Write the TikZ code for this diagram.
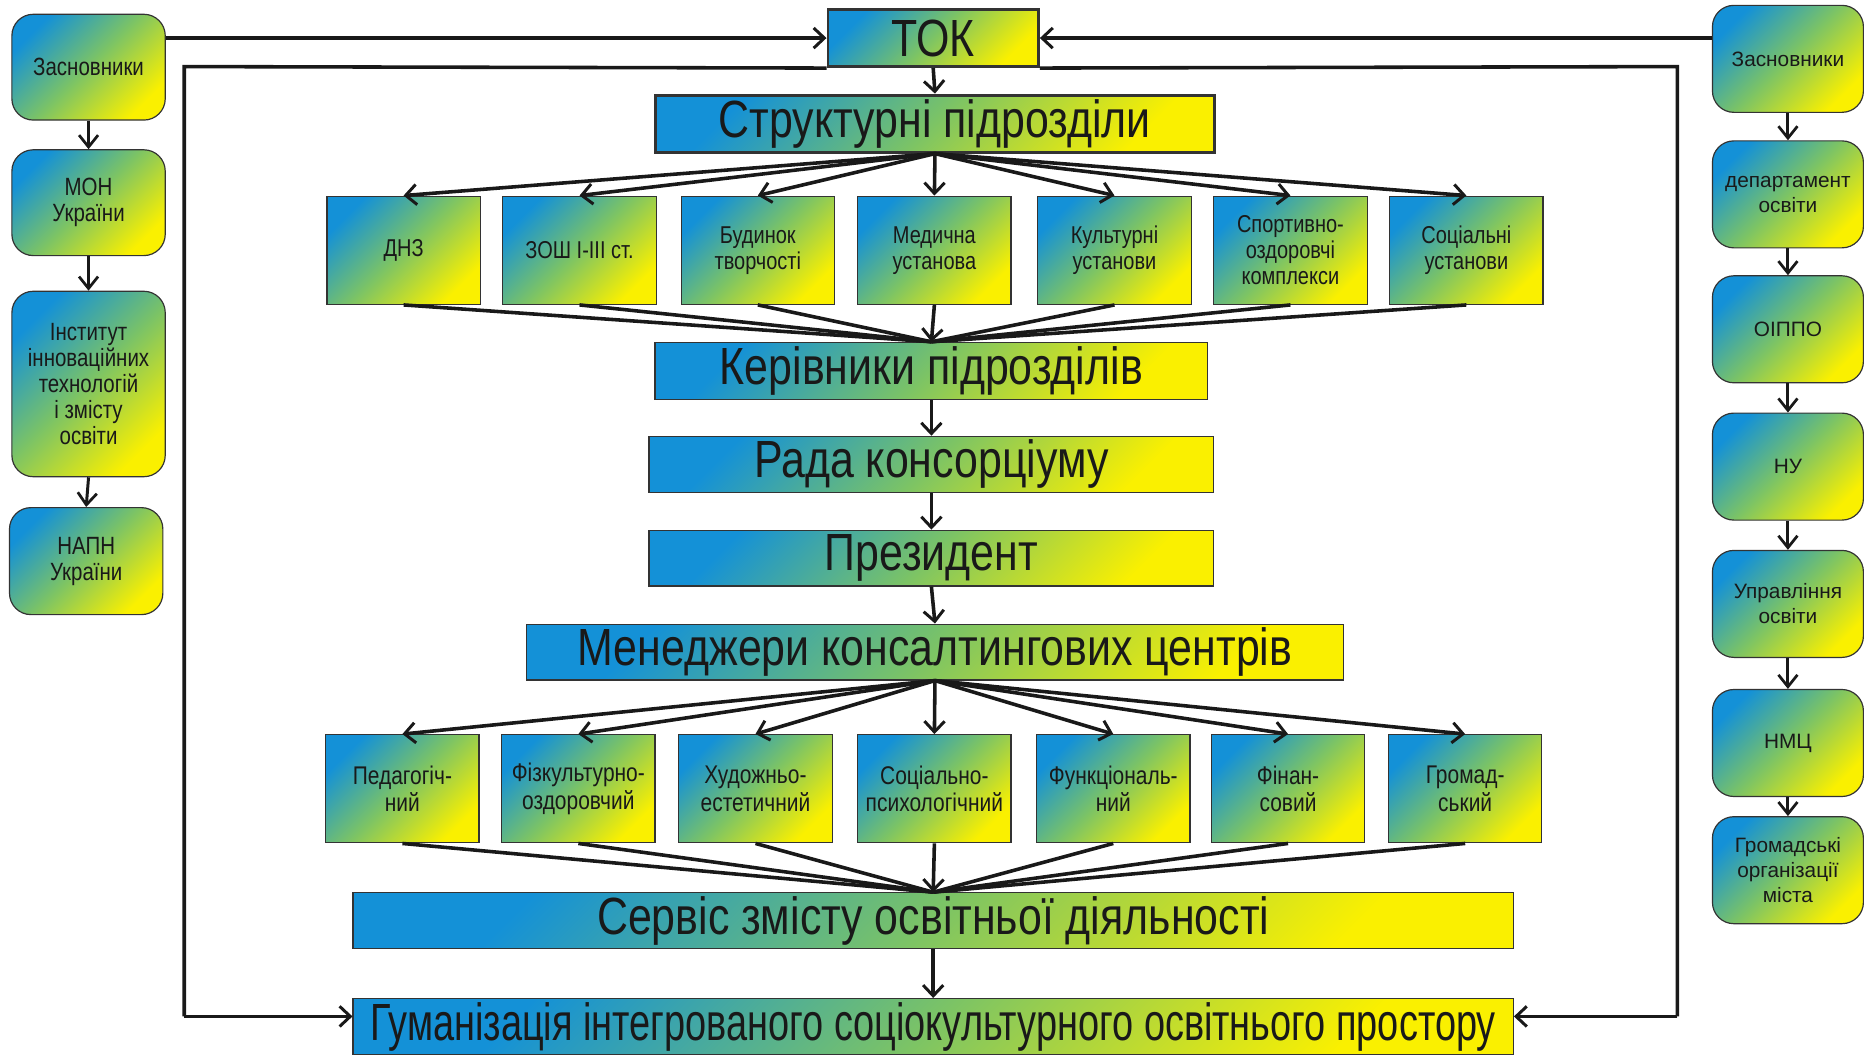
\documentclass[tikz,border=0pt]{standalone}
\usepackage{fontspec}
\setmainfont{Liberation Sans}
\newfontfamily\nrw[FakeStretch=0.82]{Liberation Sans}
\newfontfamily\nrww[FakeStretch=0.725]{Liberation Sans}
\usetikzlibrary{arrows.meta}
\definecolor{gblue}{RGB}{20,145,215}
\definecolor{ggreen}{RGB}{125,196,100}
\definecolor{gyellow}{RGB}{250,240,0}
\definecolor{txt}{RGB}{25,25,25}
\tikzset{
  grad/.style={left color=gblue, right color=gyellow, middle color=ggreen, shading angle=45,
    draw=black!80, line width=1pt, inner sep=0pt, text=txt, align=center},
  bar/.style={grad, minimum height=48pt, font=\nrw\fontsize{44}{44}\selectfont},
  sbox/.style={grad, minimum width=129pt, minimum height=91pt, font=\nrw\fontsize{20.5}{22}\selectfont},
  tbox/.style={sbox, font=\nrw\fontsize{21.5}{23}\selectfont},
  lbox/.style={grad, rounded corners=18pt, minimum width=129pt, font=\nrw\fontsize{21}{22}\selectfont},
  rbox/.style={grad, rounded corners=18pt, minimum width=127pt, minimum height=90pt, font=\fontsize{17.5}{21}\selectfont},
  conn/.style={line width=3pt, draw=black!90},
  arr/.style={conn, -{Straight Barb[length=9pt,width=17pt,line width=2.5pt]}},
  sarr/.style={line width=2.5pt, draw=black!90, -{Straight Barb[length=10pt,width=16pt,line width=2.3pt]}},
}
\begin{document}
\begin{tikzpicture}[x=1pt,y=-1pt]
\useasboundingbox (0,0) rectangle (1568,887);
% left column
\node[lbox, minimum height=89pt] (zl) at (74.5,56.5) {Засновники};
\node[lbox, minimum height=89pt] (mon) at (74.5,170.5) {МОН\\України};
\node[lbox, minimum height=156pt] (inst) at (74.5,323) {Інститут\\інноваційних\\технологій\\і змісту\\освіти};
\node[lbox, minimum height=90pt] (napn) at (72.5,472) {НАПН\\України};
\draw[sarr] (zl.south) -- (mon.north);
\draw[sarr] (mon.south) -- (inst.north);
\draw[sarr] (inst.south) -- (napn.north);
% right column
\node[rbox] (zr) at (1504,49.5) {Засновники};
\node[rbox] (dep) at (1504,163.5) {департамент\\освіти};
\node[rbox] (oippo) at (1504,277) {ОІППО};
\node[rbox] (nu) at (1504,392.5) {НУ};
\node[rbox] (upr) at (1504,508) {Управління\\освіти};
\node[rbox] (nmc) at (1504,625) {НМЦ};
\node[rbox] (grom) at (1504,732) {Громадські\\організації\\міста};
\draw[sarr] (zr.south) -- (dep.north);
\draw[sarr] (dep.south) -- (oippo.north);
\draw[sarr] (oippo.south) -- (nu.north);
\draw[sarr] (nu.south) -- (upr.north);
\draw[sarr] (upr.south) -- (nmc.north);
\draw[sarr] (nmc.south) -- (grom.north);
% central bars
\node[bar, minimum width=177pt, line width=2.5pt] (tok) at (785,32) {ТОК};
\node[bar, minimum width=471pt, line width=2.5pt] (str) at (786.5,104) {Структурні підрозділи};
\node[bar, minimum width=465pt] (ker) at (783.5,312) {Керівники підрозділів};
\node[bar, minimum width=475pt, minimum height=47pt] (rada) at (783.5,390.5) {Рада консорціуму};
\node[bar, minimum width=475pt, minimum height=47pt] (pres) at (783.5,469.5) {Президент};
\node[bar, minimum width=687pt, minimum height=47pt] (men) at (786.5,548.5) {Менеджери консалтингових центрів};
\node[bar, minimum width=976pt, minimum height=47pt] (serv) at (785,774.5) {Сервіс змісту освітньої діяльності};
\node[bar, minimum width=976pt, minimum height=47pt, font=\nrww\fontsize{44}{44}\selectfont] (hum) at (785,863.5) {Гуманізація інтегрованого соціокультурного освітнього простору};
% row 1
\node[sbox] (a1) at (339.5,210.5) {ДНЗ};
\node[sbox] (a2) at (487.5,210.5) {ЗОШ І-ІІІ ст.};
\node[sbox] (a3) at (637.5,210.5) {Будинок\\творчості};
\node[sbox] (a4) at (786,210.5) {Медична\\установа};
\node[sbox] (a5) at (937.5,210.5) {Культурні\\установи};
\node[sbox] (a6) at (1085.5,210.5) {Спортивно-\\оздоровчі\\комплекси};
\node[sbox] (a7) at (1233.5,210.5) {Соціальні\\установи};
% row 2
\node[tbox] (b1) at (338.5,663.5) {Педагогіч-\\ний};
\node[tbox] (b2) at (486.5,663.5) {Фізкультурно-\\оздоровчий};
\node[tbox] (b3) at (635.5,663.5) {Художньо-\\естетичний};
\node[tbox] (b4) at (786,663.5) {Соціально-\\психологічний};
\node[tbox] (b5) at (936.5,663.5) {Функціональ-\\ний};
\node[tbox] (b6) at (1083.5,663.5) {Фінан-\\совий};
\node[tbox] (b7) at (1232.5,663.5) {Громад-\\ський};
% top links
\draw[arr] (zl.east |- tok.west) -- (tok.west);
\draw[arr] (zr.west |- tok.east) -- (tok.east);
\coordinate (fl) at (155,56);
\coordinate (flb) at (155,855);
\coordinate (fr) at (1411,56);
\coordinate (frb) at (1411,855);
\draw[conn] (tok.south west) -- (fl) -- (flb);
\draw[arr] (flb) -- (flb -| hum.west);
\draw[conn] (tok.south east) -- (fr) -- (frb);
\draw[arr] (frb) -- (frb -| hum.east);
\draw[arr] (tok.south) -- (str.north);
% fan out 1
\foreach \n in {a1,a2,a3,a4,a5,a6,a7} \draw[arr] (str.south) -- (\n.north);
\foreach \n in {a1,a2,a3,a5,a6,a7} \draw[conn] (\n.south) -- (ker.north);
\draw[arr] (a4.south) -- (ker.north);
\draw[arr] (ker.south) -- (rada.north);
\draw[arr] (rada.south) -- (pres.north);
\draw[arr] (pres.south) -- (men.north);
% fan out 2
\foreach \n in {b1,b2,b3,b4,b5,b6,b7} \draw[arr] (men.south) -- (\n.north);
\foreach \n in {b1,b2,b3,b5,b6,b7} \draw[conn] (\n.south) -- (serv.north);
\draw[arr] (b4.south) -- (serv.north);
\draw[arr] (serv.south) -- (hum.north);
\end{tikzpicture}
\end{document}
